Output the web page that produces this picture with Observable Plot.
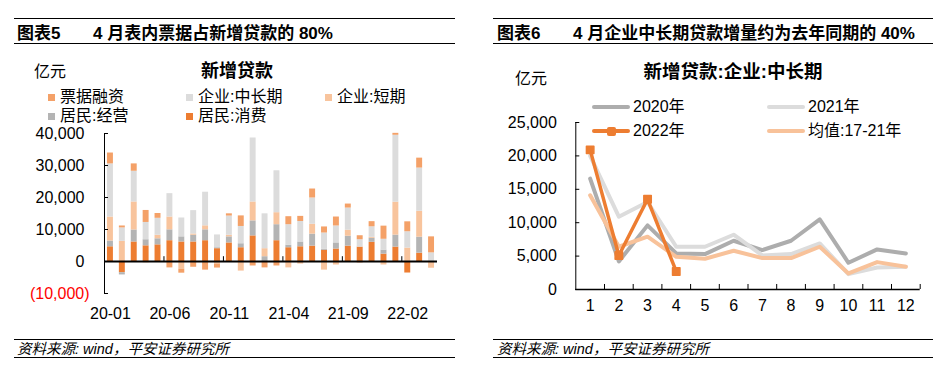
<!DOCTYPE html>
<html><head><meta charset="utf-8">
<script src="https://cdn.jsdelivr.net/npm/d3@7"></script>
<script src="https://cdn.jsdelivr.net/npm/@observablehq/plot@0.6"></script>
<style>
body{margin:0;background:#fff;}
#root{position:relative;width:952px;height:372px;overflow:hidden;font-family:"Liberation Sans","Noto Sans CJK SC",sans-serif;color:#000;background:#fff;}
.t{position:absolute;white-space:nowrap;line-height:1;transform:translateY(-50%);}
.hl{position:absolute;height:0;border-top:1.5px solid #000;}
.chart{position:absolute;}
</style></head><body><div id="root"></div>
<script>
// ---------- Left chart data (亿元) ----------
const months = ["20-01","20-02","20-03","20-04","20-05","20-06","20-07","20-08","20-09","20-10","20-11","20-12",
                "21-01","21-02","21-03","21-04","21-05","21-06","21-07","21-08","21-09","21-10","21-11","21-12",
                "22-01","22-02","22-03","22-04"];
const xTickLabels = ["20-01","20-06","20-11","21-04","21-09","22-02"];
const yTicksLeft = [-10000, 0, 10000, 20000, 30000, 40000];
// stacking order bottom -> top
const seriesNames = ["居民:消费","居民:经营","企业:短期","企业:中长期","票据融资"];
const seriesColors = ["#ED7D31","#B4B4B4","#F8C49D","#DCDCDC","#F4A168"];
const legendOrder = ["票据融资","企业:中长期","企业:短期","居民:经营","居民:消费"];

const consumer = [4600,-3500,6100,4900,5200,6500,6100,6100,6500,4000,5800,4300,
                  8000,0,6500,4300,4600,4800,3500,3900,4800,4500,6000,2300,
                  4500,-3600,2600,0];
const business = [1800,-700,3750,1900,1900,3400,1600,2100,3400,300,1900,1250,
                  4700,1500,5000,800,1500,3750,300,1900,3100,0,1250,1250,
                  3750,0,5000,0];
const corpShort = [7500,6300,8750,-400,1100,4000,-2400,400,1250,-800,500,-3000,
                   5900,2500,3750,-2000,-800,3100,-2700,-1100,1900,-500,300,-1100,
                   10300,4200,8100,-2100];
const corpLong = [16600,4200,9600,5400,5300,7300,5900,7300,10500,4000,6000,5400,
                  20000,10900,13100,6400,6400,8200,5100,5300,6900,2300,3300,3400,
                  20900,5100,13500,2700];
const bills = [3400,600,2300,3750,1500,-2000,-1250,-1800,-2700,-1250,700,3300,
               -1400,-2000,-1400,2500,1600,2800,1900,2800,1250,1250,1600,4100,
               600,3100,3100,5000];
const seriesValues = [consumer, business, corpShort, corpLong, bills];

// ---------- Right chart data (亿元) ----------
const monthNums = [1,2,3,4,5,6,7,8,9,10,11,12];
const yTicksRight = [0,5000,10000,15000,20000,25000];
const y2020 = [16600,4200,9600,5400,5300,7300,5900,7300,10500,4000,6000,5400];
const y2021 = [20000,10900,13100,6400,6400,8200,5100,5300,6900,2300,3300,3400];
const y2022 = [20900,5100,13500,2700];
const yAvg  = [14100,6400,7900,4900,4600,5800,4700,4700,6400,2400,4100,3400];
const lineNames = ["2020年","2021年","2022年","均值:17-21年"];
const lineColors = ["#ADADAD","#DCDCDC","#ED7D31","#F8C29A"];

// ---------- helpers ----------
const root = document.getElementById("root");
function txt(x, y, s, css = "") {
  const d = document.createElement("div");
  d.className = "t"; d.textContent = s;
  d.style.cssText = `left:${x}px;top:${y}px;${css}`;
  root.appendChild(d); return d;
}
function hline(x1, x2, y) {
  const d = document.createElement("div");
  d.className = "hl"; d.style.cssText = `left:${x1}px;top:${y}px;width:${x2 - x1}px;`;
  root.appendChild(d);
}
function box(x, y, w, h, color, extra = "") {
  const d = document.createElement("div");
  d.style.cssText = `position:absolute;left:${x}px;top:${y}px;width:${w}px;height:${h}px;background:${color};${extra}`;
  root.appendChild(d);
}
const fmt = d3.format(",");
const fmtAcc = d => d < 0 ? `(${fmt(-d)})` : fmt(d);
const plotStyle = {fontFamily: '"Liberation Sans","Noto Sans CJK SC",sans-serif', fontSize: "16px", color: "#000", background: "transparent", overflow: "visible"};

// ---------- headers & footers ----------
const bold = "font-weight:bold;";
[[14,455,17,93,"图表5","4 月表内票据占新增贷款的 80%"],[493,933,497,573,"图表6","4 月企业中长期贷款增量约为去年同期的 40%"]]
.forEach(([x1,x2,xa,xb,a,b]) => {
  hline(x1, x2, 17.5); hline(x1, x2, 42.5);
  txt(xa, 32.5, a, bold + "font-size:17px;");
  txt(xb, 32.5, b, bold + "font-size:17px;");
  hline(x1, x2, 338.5); hline(x1, x2, 357);
  txt(xa, 349, "资料来源: wind，平安证券研究所", "font-size:14.5px;font-style:italic;");
});

// ---------- Left panel text & legend ----------
txt(34, 72, "亿元", "font-size:16px;");
txt(237, 71, "新增贷款", bold + "font-size:18px;transform:translate(-50%,-50%);");
const legPos = [[48,97],[186,97],[325,97],[48,116],[186,116]];
legendOrder.forEach((name, i) => {
  const [x, y] = legPos[i];
  box(x, y - 3.5, 7, 7, seriesColors[seriesNames.indexOf(name)]);
  txt(x + 12, y, name, "font-size:16px;");
});

// ---------- Left chart ----------
const leftData = [];
seriesNames.forEach((s, k) => seriesValues[k].forEach((v, i) => leftData.push({month: months[i], series: s, value: v})));
const step = 333 / 28;
const left = Plot.plot({
  width: 476, height: 213,
  marginLeft: 104, marginRight: 39, marginTop: 13, marginBottom: 40,
  x: {type: "band", domain: months, paddingInner: 0.5, paddingOuter: 0.25, round: false, axis: null},
  y: {domain: [-10000, 40000], axis: null},
  color: {domain: seriesNames, range: seriesColors},
  style: plotStyle,
  marks: [
    Plot.barY(leftData, {x: "month", y: "value", fill: "series"}),
    Plot.ruleY([0], {stroke: "#000", strokeWidth: 2}),
    Plot.frame({anchor: "left", stroke: "#000"}),
    Plot.ruleX(xTickLabels, {x: d => d, dx: -step / 2, y1: 0, y2: 1500, stroke: "#000"}),
    Plot.axisY(yTicksLeft, {label: null, tickSize: -4, tickPadding: 24, tickFormat: d => d < 0 ? "" : fmtAcc(d), fontSize: 16, stroke: "#000"}),
    Plot.axisY(yTicksLeft.filter(d => d < 0), {label: null, tickSize: 0, tickPadding: 20, tickFormat: fmtAcc, fill: "#FF0000", dx: 5, fontSize: 16}),
    Plot.axisX(xTickLabels, {label: null, tickSize: 0, tickPadding: 14, fontSize: 16, fill: "#000"})
  ]
});
left.classList.add("chart");
left.style.left = "0px"; left.style.top = "120px";
root.appendChild(left);

// ---------- Right panel text & legend ----------
txt(515, 79, "亿元", "font-size:16px;");
txt(733, 72, "新增贷款:企业:中长期", bold + "font-size:18.5px;transform:translate(-50%,-50%);");
const lPos = [[592,107],[767,107],[592,131],[767,131]];
lineNames.forEach((name, i) => {
  const [x, y] = lPos[i];
  box(x, y - 2, 38, 4, lineColors[i], "border-radius:2px;");
  if (name === "2022年") box(x + 15, y - 4.5, 9, 9, lineColors[i], "border-radius:2px;");
  txt(x + 41, y, name, "font-size:16px;");
});

// ---------- Right chart ----------
const toPts = arr => arr.map((v, i) => ({m: monthNums[i], v}));
const rstep = 344.4 / 12;
const right = Plot.plot({
  width: 476, height: 209,
  marginLeft: 99.3, marginRight: 32.3, marginTop: 12, marginBottom: 30,
  x: {type: "point", domain: monthNums, padding: 0.5, round: false, axis: null},
  y: {domain: [0, 25000], axis: null},
  style: plotStyle,
  marks: [
    Plot.line(toPts(y2020), {x: "m", y: "v", stroke: lineColors[0], strokeWidth: 4, strokeLinejoin: "round", strokeLinecap: "round"}),
    Plot.line(toPts(y2021), {x: "m", y: "v", stroke: lineColors[1], strokeWidth: 4, strokeLinejoin: "round", strokeLinecap: "round"}),
    Plot.line(toPts(yAvg), {x: "m", y: "v", stroke: lineColors[3], strokeWidth: 4, strokeLinejoin: "round", strokeLinecap: "round"}),
    Plot.line(toPts(y2022), {x: "m", y: "v", stroke: lineColors[2], strokeWidth: 3.5, strokeLinejoin: "round"}),
    Plot.dot(toPts(y2022), {x: "m", y: "v", symbol: "square", r: 4.2, fill: lineColors[2], stroke: lineColors[2], strokeWidth: 1.5, strokeLinejoin: "round"}),
    Plot.frame({anchor: "left", stroke: "#000"}),
    Plot.ruleY([0], {stroke: "#000", strokeWidth: 1.3}),
    Plot.ruleX(monthNums, {x: d => d, dx: rstep / 2, y1: 0, y2: 750, stroke: "#000"}),
    Plot.axisY(yTicksRight, {label: null, tickSize: -4, tickPadding: 23, tickFormat: fmt, fontSize: 16, fill: "#000"}),
    Plot.axisX(monthNums, {label: null, tickSize: 0, tickPadding: 10, fontSize: 16, fill: "#000"})
  ]
});
right.classList.add("chart");
right.style.left = "476px"; right.style.top = "110px";
root.appendChild(right);
</script></body></html>
